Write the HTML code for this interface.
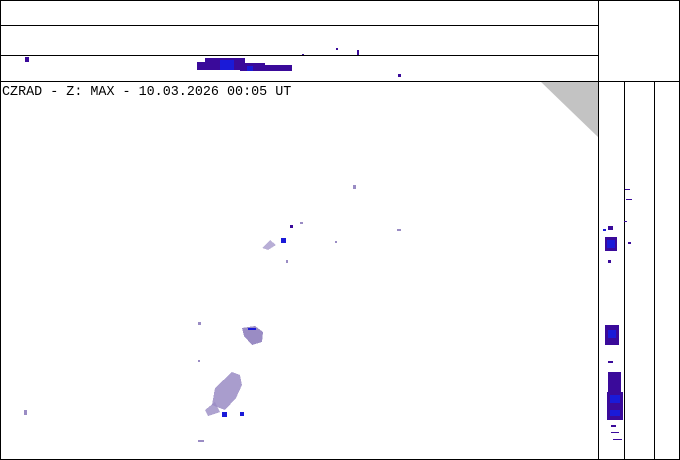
<!DOCTYPE html>
<html><head><meta charset="utf-8"><style>
html,body{margin:0;padding:0;background:#fff;width:680px;height:460px;overflow:hidden}
svg{display:block}
</style></head><body>
<svg width="680" height="460" viewBox="0 0 680 460" xmlns="http://www.w3.org/2000/svg" shape-rendering="crispEdges">
<rect x="0" y="0" width="680" height="460" fill="#fff"/>
<path d="M540,81 L598,81 L598,137 Q572,112 540,81 Z" fill="#c3c3c3" shape-rendering="auto"/>
<g fill="#000">
<rect x="0" y="0" width="680" height="1"/>
<rect x="0" y="459" width="680" height="1"/>
<rect x="0" y="0" width="1" height="460"/>
<rect x="679" y="0" width="1" height="460"/>
<rect x="0" y="25" width="598" height="1"/>
<rect x="0" y="55" width="598" height="1"/>
<rect x="0" y="81" width="680" height="1"/>
<rect x="598" y="0" width="1" height="460"/>
<rect x="624" y="81" width="1" height="379"/>
<rect x="654" y="81" width="1" height="379"/>
</g>
<text x="2" y="95" font-family="Liberation Mono, monospace" font-size="13.4" fill="#000">CZRAD - Z: MAX - 10.03.2026 00:05 UT</text>
<g fill="#3a0a9a">
<rect x="25" y="57" width="4" height="5"/>
<rect x="197" y="62" width="20" height="8"/>
<rect x="205" y="58" width="40" height="12"/>
<rect x="240" y="63" width="25" height="8"/>
<rect x="262" y="65" width="30" height="6"/>
<rect x="336" y="48" width="2" height="2"/>
<rect x="357" y="50" width="2" height="5"/>
<rect x="398" y="74" width="3" height="3"/>
<rect x="302" y="54" width="2" height="1"/>
</g>
<rect x="220" y="60" width="14" height="10" fill="#1a1ad8"/>
<rect x="247" y="66" width="6" height="5" fill="#1a1ad8"/>
<g fill="#9a8cc4">
<path d="M242,328 L255,326 L263,332 L262,342 L252,345 L244,336 Z"/>
<path d="M215,388 L232,372 L240,375 L242,385 L236,398 L225,410 L212,405 Z" opacity="0.85"/>
<path d="M205,410 L215,402 L220,412 L208,416 Z" opacity="0.8"/>
<rect x="198" y="322" width="3" height="3"/>
<rect x="353" y="185" width="3" height="4"/>
<path d="M262,248 L270,240 L276,245 L268,250 Z" opacity="0.7"/>
<rect x="286" y="260" width="2" height="3"/>
<rect x="397" y="229" width="4" height="2"/>
<rect x="198" y="440" width="6" height="2"/>
<rect x="24" y="410" width="3" height="5"/>
<rect x="300" y="222" width="3" height="2"/>
<rect x="335" y="241" width="2" height="2"/>
<rect x="198" y="360" width="2" height="2"/>
</g>
<g fill="#1a1ad8">
<rect x="281" y="238" width="5" height="5"/>
<rect x="222" y="412" width="5" height="5"/>
<rect x="240" y="412" width="4" height="4"/>
<rect x="248" y="328" width="8" height="2"/>
</g>
<rect x="290" y="225" width="3" height="3" fill="#3a0a9a"/>
<g fill="#3a0a9a">
<rect x="625" y="189" width="5" height="1"/>
<rect x="626" y="199" width="6" height="1"/>
<rect x="624" y="221" width="3" height="1"/>
<rect x="608" y="226" width="5" height="4"/>
<rect x="605" y="237" width="12" height="14"/>
<rect x="628" y="242" width="3" height="2"/>
<rect x="608" y="260" width="3" height="3"/>
<rect x="605" y="325" width="14" height="20"/>
<rect x="608" y="361" width="5" height="2"/>
<rect x="608" y="372" width="13" height="20"/>
<rect x="607" y="392" width="16" height="28"/>
<rect x="611" y="425" width="5" height="2"/>
<rect x="613" y="439" width="9" height="1"/>
<rect x="611" y="432" width="8" height="1"/>
</g>
<g fill="#1a1ad8">
<rect x="603" y="229" width="3" height="2"/>
<rect x="607" y="240" width="8" height="8"/>
<rect x="608" y="330" width="8" height="8"/>
<rect x="610" y="395" width="10" height="8"/>
<rect x="610" y="410" width="10" height="6"/>
</g>
</svg>
</body></html>
